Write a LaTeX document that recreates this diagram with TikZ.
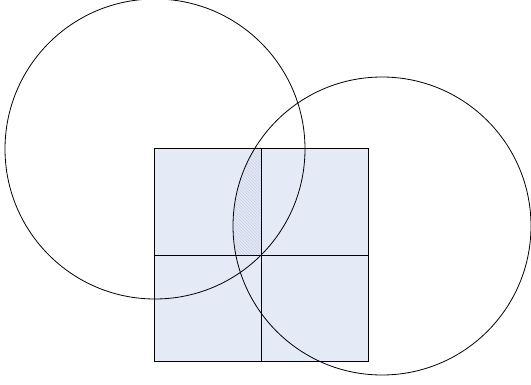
\documentclass[tikz,border=0pt]{standalone}
\usetikzlibrary{patterns}
\definecolor{sqfill}{RGB}{228,234,246}
\definecolor{hatchc}{RGB}{200,208,226}
\begin{document}
\begin{tikzpicture}[x=1pt,y=-1pt,line width=0.8pt]
\useasboundingbox (0,0) rectangle (531,385);
\coordinate (tl) at (154,148);
\coordinate (br) at (368,361);
\coordinate (c) at (261,255);
\coordinate (c1) at (155,149);
\coordinate (c2) at (382,226);
\fill[sqfill] (tl) rectangle (br);
\begin{scope}
  \clip (c2) circle[radius=149];
  \fill[pattern=north west lines, pattern color=hatchc] (tl) rectangle (c);
\end{scope}
\draw (tl) rectangle (br);
\draw (c |- tl) -- (c |- br);
\draw (tl |- c) -- (br |- c);
\draw (c1) circle[radius=150];
\draw (c2) circle[radius=149];
\end{tikzpicture}
\end{document}
